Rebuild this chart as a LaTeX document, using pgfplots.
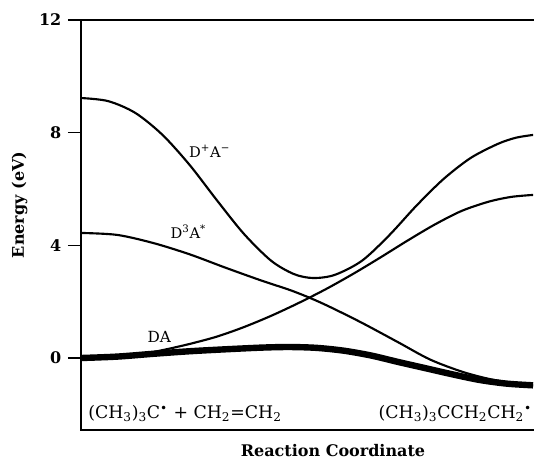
\documentclass[border=0pt]{standalone}
\usepackage{fontspec}
\setmainfont{DejaVu Serif}
\usepackage{pgfplots}
\pgfplotsset{compat=1.18}
\begin{document}
\begin{tikzpicture}
\begin{axis}[
  scale only axis,
  width=378pt, height=307.5pt,
  xmin=0, xmax=1.1126, ymin=-2.556, ymax=12,
  xtick=\empty,
  ytick={0,4,8,12},
  yticklabels={\textbf{0},\textbf{4},\textbf{8},\textbf{12}},
  ytick pos=left,
  tick align=outside,
  major tick length=9.75pt,
  every tick/.style={line width=1pt, black},
  axis line style={line width=1.4pt},
  yticklabel style={font=\fontsize{12}{14}\selectfont, xshift=-1.5pt},
  xlabel={Reaction Coordinate},
  ylabel={Energy (eV)},
  every axis x label/.style={at={(axis description cs:0.5,-0.049)}, anchor=center,
    font=\fontsize{12}{14}\selectfont\bfseries},
  every axis y label/.style={at={(axis description cs:-0.122,0.549)}, rotate=90, anchor=center,
    font=\fontsize{12}{14}\selectfont\bfseries},
  clip=false,
]
% D+A- state
\addplot[black, line width=1.6pt, smooth] coordinates {
  (0.000,9.23) (0.060,9.12) (0.120,8.70) (0.180,7.92) (0.240,6.85)
  (0.300,5.60) (0.360,4.40) (0.420,3.45) (0.470,2.98) (0.512,2.84)
  (0.560,2.95) (0.620,3.45) (0.680,4.35) (0.740,5.40) (0.800,6.35)
  (0.860,7.10) (0.920,7.60) (0.960,7.82) (0.998,7.92)
};
% D3A* state
\addplot[black, line width=1.6pt, smooth] coordinates {
  (0.000,4.44) (0.080,4.37) (0.160,4.08) (0.240,3.68) (0.320,3.20)
  (0.400,2.74) (0.460,2.42) (0.506,2.13) (0.550,1.81) (0.620,1.25)
  (0.700,0.56) (0.770,-0.05) (0.840,-0.48) (0.900,-0.74) (0.950,-0.88)
  (0.998,-0.96)
};
% DA state
\addplot[black, line width=1.6pt, smooth] coordinates {
  (0.000,0.00) (0.060,0.02) (0.120,0.10) (0.180,0.28) (0.240,0.50)
  (0.300,0.76) (0.360,1.10) (0.420,1.50) (0.480,1.95) (0.540,2.44)
  (0.600,2.98) (0.660,3.56) (0.720,4.16) (0.780,4.73) (0.840,5.22)
  (0.900,5.55) (0.950,5.72) (0.998,5.79)
};
% ground state (thick)
\addplot[black, line width=4.8pt, smooth] coordinates {
  (0.000,0.00) (0.080,0.05) (0.160,0.15) (0.240,0.24) (0.320,0.31)
  (0.400,0.37) (0.460,0.39) (0.520,0.36) (0.580,0.26) (0.640,0.09)
  (0.700,-0.14) (0.760,-0.36) (0.820,-0.58) (0.880,-0.78) (0.940,-0.91)
  (0.998,-0.97)
};
\node[anchor=base, font=\fontsize{11}{13}\selectfont] at (axis cs:0.284,7.135) {D\textsuperscript{+}A\textsuperscript{−}};
\node[anchor=base, font=\fontsize{11}{13}\selectfont] at (axis cs:0.237,4.26) {D\textsuperscript{3}A\textsuperscript{*}};
\node[anchor=base, font=\fontsize{11.5}{13}\selectfont] at (axis cs:0.173,0.568) {DA};
\node[anchor=base west, inner sep=0pt, font=\fontsize{13}{15}\selectfont] at (axis cs:0.0155,-2.13)
  {(CH\textsubscript{3})\textsubscript{3}C\textsuperscript{\textbullet} + CH\textsubscript{2}=CH\textsubscript{2}};
\node[anchor=base east, inner sep=0pt, font=\fontsize{13}{15}\selectfont] at (axis cs:0.996,-2.13)
  {(CH\textsubscript{3})\textsubscript{3}CCH\textsubscript{2}CH\textsubscript{2}\textsuperscript{\textbullet}};
\end{axis}
\pgfresetboundingbox
\path[use as bounding box] ([shift={(-60.75pt,-22.5pt)}]current axis.south west)
  rectangle ([shift={(339.75pt,15pt)}]current axis.north west);
\end{tikzpicture}
\end{document}
